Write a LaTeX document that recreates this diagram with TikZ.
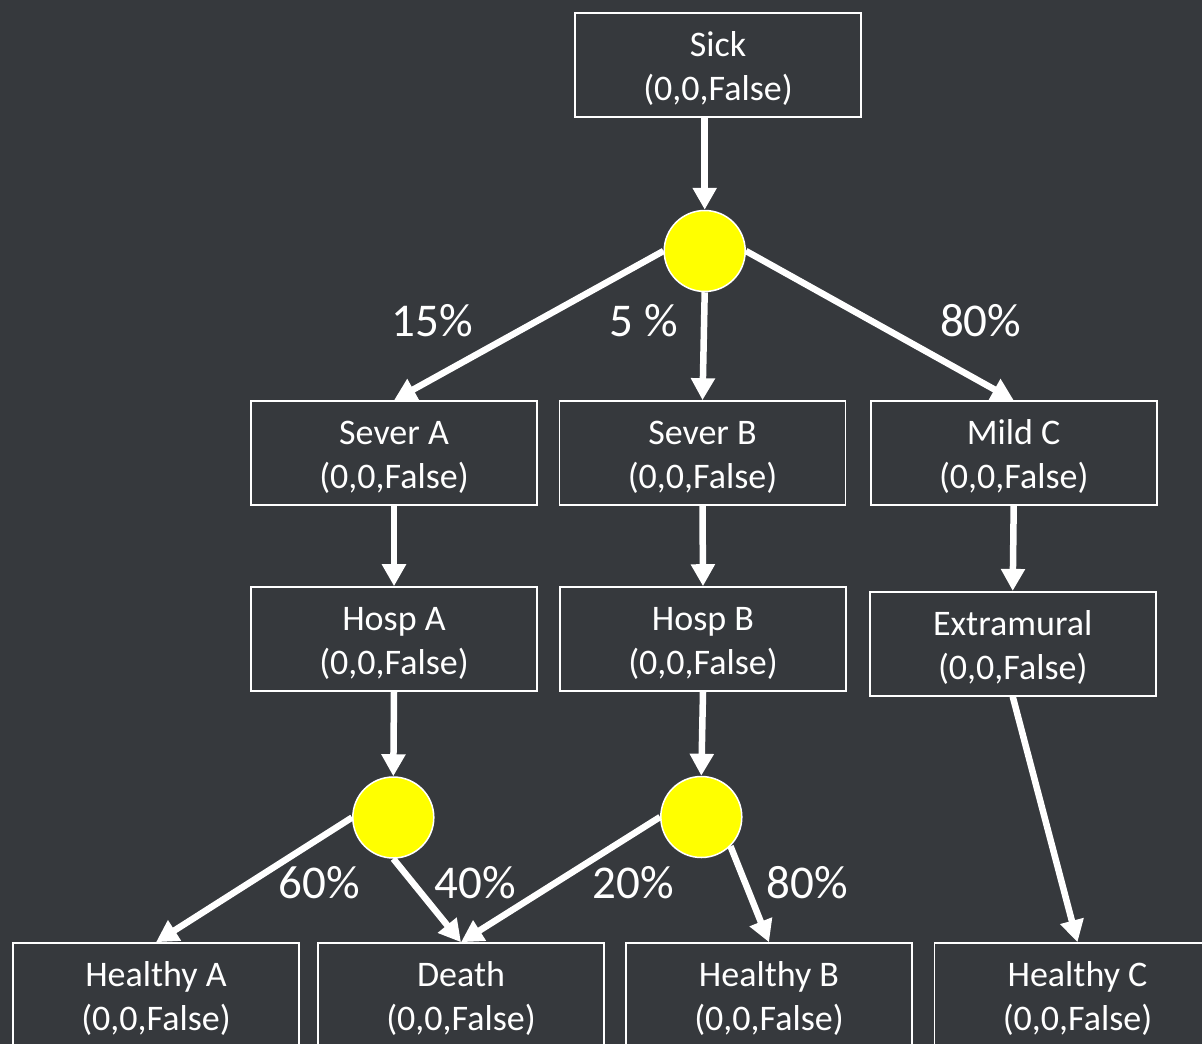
\documentclass[tikz,border=0pt]{standalone}
\usepackage{fontspec}
\setmainfont{Carlito}
\usetikzlibrary{arrows.meta}
\definecolor{bg}{RGB}{54,57,61}
\definecolor{chance}{RGB}{255,255,0}
% fixed line metrics so every state label sits at the same height
\newcommand{\labeltop}{\rule{0pt}{37.2pt}}
\newcommand{\labelbot}{\rule[-10pt]{0pt}{10pt}}
\newcommand{\statetext}[2]{\labeltop#1\\#2\labelbot}
\begin{document}
\begin{tikzpicture}[x=1pt,y=-1pt,
  state/.style={draw=white, line width=1.6pt, fill=bg, text=white,
    minimum width=286pt, minimum height=104pt, inner sep=0pt,
    align=center, font=\fontsize{36}{44}\selectfont},
  chancenode/.style={circle, draw=white, line width=1.5pt, fill=chance,
    minimum size=81pt, inner sep=0pt},
  prob/.style={text=white, anchor=base, inner sep=0pt,
    font=\fontsize{47}{56}\selectfont},
  link/.style={draw=white, line width=6.5pt,
    -{Triangle[width=23pt,length=22pt]}}]
  \useasboundingbox (0,0) rectangle (1202,1044);
  \clip (0,0) rectangle (1202,1044);
  \fill[bg] (0,0) rectangle (1202,1044);

  % states
  \node[state] (sick)   at (718,64.7)   {\statetext{Sick}{(0,0,False)}};
  \node[state] (sevA)   at (394,453)    {\statetext{Sever A}{(0,0,False)}};
  \node[state] (sevB)   at (702.5,453)  {\statetext{Sever B}{(0,0,False)}};
  \node[state] (mildC)  at (1013.7,453) {\statetext{Mild C}{(0,0,False)}};
  \node[state] (hospA)  at (394,639)    {\statetext{Hosp A}{(0,0,False)}};
  \node[state] (hospB)  at (703,639)    {\statetext{Hosp B}{(0,0,False)}};
  \node[state] (extra)  at (1012.7,643.7) {\statetext{Extramural}{(0,0,False)}};
  \node[state] (healA)  at (156,995)    {\statetext{Healthy A}{(0,0,False)}};
  \node[state] (death)  at (461,995)    {\statetext{Death}{(0,0,False)}};
  \node[state] (healB)  at (769,995)    {\statetext{Healthy B}{(0,0,False)}};
  \node[state] (healC)  at (1077.5,995) {\statetext{Healthy C}{(0,0,False)}};

  % chance nodes
  \node[chancenode] (c1) at (704.7,251) {};
  \node[chancenode] (c2) at (393.3,817.5) {};
  \node[chancenode] (c3) at (701.3,817) {};

  % transitions
  \draw[link] (sick.south -| c1.north) -- (c1.north);
  \draw[link] (c1.west)  -- (sevA.north);
  \draw[link] (c1.south) -- (sevB.north);
  \draw[link] (c1.east)  -- (mildC.north);
  \draw[link] (sevA.south)  -- (hospA.north);
  \draw[link] (sevB.south)  -- (hospB.north);
  \draw[link] (mildC.south) -- (extra.north);
  \draw[link] (hospA.south) -- (c2.north);
  \draw[link] (hospB.south) -- (c3.north);
  \draw[link] (c2.west)  -- (healA.north);
  \draw[link] (c2.south) -- (death.north);
  \draw[link] (c3.west)  -- (death.north);
  \draw[link] (c3.south east) -- (healB.north);
  \draw[link] (extra.south) -- (healC.north);

  % probabilities
  \node[prob] (p15) at (432.5,336.7) {15\%};
  \node[prob] (p5)  at (644,336.7)   {5 \%};
  \node[prob] (p80) at (980.7,336.7) {80\%};
  \node[prob] (p60) at (319,898.5)   {60\%};
  \node[prob] (p40) at (475.5,898.5) {40\%};
  \node[prob] (p20) at (633.5,898.5) {20\%};
  \node[prob] (p80b) at (807.5,898.5) {80\%};
\end{tikzpicture}
\end{document}
